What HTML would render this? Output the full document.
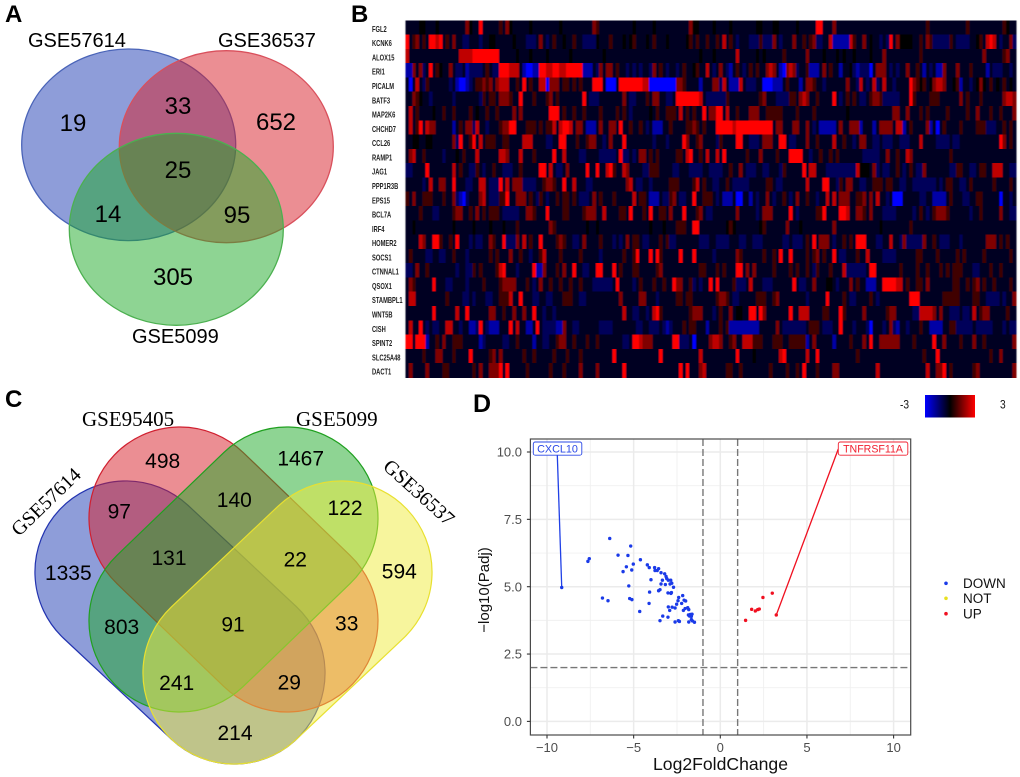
<!DOCTYPE html>
<html lang="en">
<head>
<meta charset="utf-8">
<title>Venn diagrams, heatmap and volcano plot</title>
<style>
html,body{margin:0;padding:0;background:#fff;width:1020px;height:777px;overflow:hidden}
svg{display:block;position:absolute;left:0;top:0}
.sans{font-family:"Liberation Sans",sans-serif}
.serif{font-family:"Liberation Serif",serif}
</style>
</head>
<body>
<svg id="figure" xmlns="http://www.w3.org/2000/svg" width="1020" height="777" viewBox="0 0 1020 777">
  <defs>
    <linearGradient id="keyGradient" x1="0" x2="1" y1="0" y2="0">
      <stop offset="0" stop-color="#0000ff"/>
      <stop offset="0.5" stop-color="#000000"/>
      <stop offset="1" stop-color="#ff0000"/>
    </linearGradient>
    <filter id="softBlur" x="-1%" y="-1%" width="102%" height="102%">
      <feGaussianBlur stdDeviation="0.5 0.35"/>
    </filter>
  </defs>

  <g class="sans" font-weight="700" font-size="24" fill="#000">
    <text x="5" y="22">A</text>
    <text x="351" y="22">B</text>
    <text x="5" y="407">C</text>
    <text x="473" y="412" font-size="25">D</text>
  </g>

  <g>
    <ellipse cx="128.7" cy="144.8" rx="107" ry="95.8" fill="rgb(30,60,180)" fill-opacity=".5" stroke="#4a64b8" stroke-width="1.3"/>
    <ellipse cx="226.3" cy="146.7" rx="107" ry="96" fill="rgb(215,30,40)" fill-opacity=".5" stroke="#d9505c" stroke-width="1.3"/>
    <ellipse cx="176.3" cy="229.3" rx="107" ry="96" fill="rgb(30,170,40)" fill-opacity=".5" stroke="#4cb050" stroke-width="1.3"/>
    <g class="sans" font-size="20" fill="#000">
      <text x="28" y="47">GSE57614</text>
      <text x="218" y="47">GSE36537</text>
      <text x="132" y="343">GSE5099</text>
    </g>
    <g class="sans" font-size="24" fill="#000" text-anchor="middle">
      <text x="73" y="131">19</text>
      <text x="178" y="114">33</text>
      <text x="276" y="130">652</text>
      <text x="178" y="178">25</text>
      <text x="108" y="222">14</text>
      <text x="237" y="223">95</text>
      <text x="173" y="285">305</text>
    </g>
  </g>

  <g>
    <path d="M63.8 638.5L171.8 739.5A91 91 0 0 0 296.2 606.5L188.2 505.5A91 91 0 0 0 63.8 638.5Z" fill="rgb(30,60,180)" fill-opacity=".5" stroke="#2233b0" stroke-width="1.2"/>
    <path d="M116.9 583.6L223.9 686.6A91 91 0 0 0 350.1 555.4L243.1 452.4A91 91 0 0 0 116.9 583.6Z" fill="rgb(215,30,40)" fill-opacity=".5" stroke="#d02030" stroke-width="1.2"/>
    <path d="M350.1 583.6L243.1 686.6A91 91 0 0 1 116.9 555.4L223.9 452.4A91 91 0 0 1 350.1 583.6Z" fill="rgb(30,170,40)" fill-opacity=".5" stroke="#20a020" stroke-width="1.2"/>
    <path d="M403.5 638.2L296.5 739.2A91 91 0 0 1 171.5 606.8L278.5 505.8A91 91 0 0 1 403.5 638.2Z" fill="rgb(240,235,60)" fill-opacity=".5" stroke="#e8e030" stroke-width="1.2"/>
    <g class="serif" font-size="21" fill="#000">
      <text x="82" y="426">GSE95405</text>
      <text x="296" y="426">GSE5099</text>
      <text transform="translate(19,537) rotate(-44)" font-size="20">GSE57614</text>
      <text transform="translate(382,468) rotate(42)" font-size="20">GSE36537</text>
    </g>
    <g class="sans" font-size="21" fill="#000" text-anchor="middle">
      <text x="162.7" y="468">498</text>
      <text x="300.7" y="465.5">1467</text>
      <text x="119.3" y="518.5">97</text>
      <text x="234.3" y="507">140</text>
      <text x="345" y="515">122</text>
      <text x="68.3" y="580">1335</text>
      <text x="169" y="565">131</text>
      <text x="295.3" y="566.5">22</text>
      <text x="399.3" y="578.5">594</text>
      <text x="121.7" y="634">803</text>
      <text x="233" y="631.5">91</text>
      <text x="346.7" y="630.5">33</text>
      <text x="176.7" y="690">241</text>
      <text x="289.3" y="689.5">29</text>
      <text x="235" y="740">214</text>
    </g>
  </g>

  <g id="heatmap" shape-rendering="crispEdges" filter="url(#softBlur)"></g>
  <g id="geneLabels" class="sans" font-weight="700" font-size="8" fill="#222"></g>

  <g>
    <rect x="925" y="395" width="50" height="22.5" fill="url(#keyGradient)"/>
    <text class="sans" transform="translate(900,408.5) scale(.85,1)" font-size="12" fill="#111">-3</text>
    <text class="sans" transform="translate(1000,408.5) scale(.85,1)" font-size="12" fill="#111">3</text>
  </g>

  <g id="volcano">
    <rect x="530.4" y="439" width="380.3" height="296" fill="#fff"/>
    <g id="volcanoGrid"></g>
    <g id="volcanoThresholds"></g>
    <g id="volcanoLeaders"></g>
    <g id="volcanoPoints"></g>
    <rect x="533.3" y="442" width="48.5" height="13.2" rx="2" fill="#fff" stroke="#2a48e6" stroke-width=".9"/>
    <text class="sans" x="557.5" y="452.5" font-size="10.8" fill="#2a48e6" text-anchor="middle">CXCL10</text>
    <rect x="838.3" y="442" width="69.5" height="13.2" rx="2" fill="#fff" stroke="#f02030" stroke-width=".9"/>
    <text class="sans" x="873" y="452.5" font-size="10.6" fill="#f02030" text-anchor="middle">TNFRSF11A</text>
    <rect x="530.4" y="439" width="380.3" height="296" fill="none" stroke="#4a4a4a" stroke-width="1.2"/>
    <g id="volcanoAxes" class="sans"></g>
    <text class="sans" x="720.5" y="770" font-size="17.6" fill="#111" text-anchor="middle">Log2FoldChange</text>
    <text class="sans" transform="translate(489,590) rotate(-90)" font-size="15" fill="#111" text-anchor="middle">−log10(Padj)</text>
    <g class="sans" font-size="13.5" fill="#111">
      <circle cx="946" cy="583.3" r="1.8" fill="#1a3ae8"/>
      <text x="963" y="588">DOWN</text>
      <circle cx="946" cy="598.3" r="1.8" fill="#e8e020"/>
      <text x="963" y="603">NOT</text>
      <circle cx="946" cy="613.7" r="1.8" fill="#f01020"/>
      <text x="963" y="618.5">UP</text>
    </g>
  </g>
</svg>

<script>
/* Heatmap data: one string per gene, one digit per sample.
   Digit d stands for a z-score of (d - 4) * 0.75. */
const geneNames = ["FGL2","KCNK6","ALOX15","ERI1","PICALM","BATF3","MAP2K6","CHCHD7","CCL26","RAMP1","JAG1","PPP1R3B","EPS15","BCL7A","IRF4","HOMER2","SOCS1","CTNNAL1","QSOX1","STAMBPL1","WNT5B","CISH","SPINT2","SLC25A48","DACT1"];
const heatmapRows = [
"3333443334 3333333364 3383333353 6433333433 3333334333 3333336533 3333333343 3333433333 3333364433 3343333433 3333344333 4433333433 3338833363 3333333333 3333333333 3333335333 3333333353 3333333335 433",
"8356353887 8353633223 3323344333 3343332223 6323533433 5332222433 3533343453 3343533343 3333453533 5335373532 3332225222 6323336335 3562233711 1117533634 3323283644 4433536522 2225322223 3453787323 362",
"7333333333 3333337777 8888888833 3334333433 3343333334 3333333334 3333333333 3333333333 3333333343 3343333337 3333343433 3335333333 6333343334 3433433334 3336333333 3333533333 3333333333 3336333335 633",
"1163623835 4336322312 2223532288 8777310011 8877887788 8881113263 6635332323 2332635323 3235334533 7323632135 3235353367 6310676233 5111363533 1334212220 3666323233 6335313231 1633363335 3333132223 323",
"3037325333 3332310012 3556563677 7335383533 7706663553 5353338883 0003888888 8770000000 0665333313 3366273111 7322233000 1113533313 6653323333 3363327323 7237332333 3865453467 7633451332 3464353435 343",
"3365433233 3333233333 3325355366 6533833353 3356353333 3338322233 3333363223 3353663322 3888888873 2222225333 3333335633 3222255367 6335333383 2353532235 6652222233 3853333555 3333336353 3353333336 776",
"3735333343 3533533335 3433533533 3363633333 3338883533 5335333353 3335353233 3334353355 5373535338 3668837335 3336663355 5553333533 3353333333 3343333333 3333336633 6333535333 3353333353 3633353353 336",
"3735837663 3333135366 2733233356 6883335553 5355737887 3663111363 3663833533 5323111335 3333556535 3338888878 8888888888 3663336633 6323111113 6336661333 1366663771 3533336130 3533335333 3555222335 353",
"3344334433 3333628335 8373555335 5333377733 3322338833 3533566332 3633383333 3333233323 3338633563 3332533338 8332223666 3388322333 6335333373 3533236633 2232223322 2333733332 2223223333 3333333386 353",
"3673353333 3233343533 3733333377 6333733353 3333833733 3322333322 2223822323 6635353333 3553783353 7337383333 3353336333 3533388883 3233533535 3333333222 2233633533 7633333333 3335333333 3333333333 333",
"2233338333 3333735332 2532335332 2233533333 8837322363 3333833833 7853376333 3225553333 2233322223 3222233533 6322233223 3325333338 3773332222 2222274443 6232233532 3532263333 3332255332 2355337773 322",
"3333323733 6633833322 3377322283 7366622223 3566533833 7333223333 3333336732 2332333335 5533335735 3322335322 2223333355 3223333333 7333388332 5366332233 5553553322 3322222223 2355332235 3333335333 353",
"5363355533 3533621023 3367322255 8336663532 5323353553 5322236353 3353333373 5531113225 6322338335 5532311130 0331323363 2335323633 5332337373 6663355636 3733230003 3333223311 1135333223 3553333303 323",
"3333533322 3333566335 3635355532 2222336653 3383333553 3335666337 3333553833 3538335536 3338333563 2233333336 3333323666 3333383233 3335583333 8873366536 3332222333 3323532356 6653333332 3353333363 322",
"3343333333 3333433333 4333343334 3335333333 3336533333 3333433433 3333333333 3334333433 3555338833 3333334543 3333334533 3333633343 3333333363 3333333333 3343333333 3533333333 3333333333 3333333333 333",
"3333763388 5335383332 3223365338 2226373533 8333356533 2236333353 3323236355 3223335352 2333333322 2332222333 2233222333 3332232223 5383666323 3535388833 3223373326 2222263353 2223332333 3333666353 533",
"3533332233 2233533323 3333353533 3633533233 5733335333 3353333323 3333353358 3338385333 3383338333 3323333336 5333333533 5383383333 5356353383 2233353373 3332222333 3335533335 3333353533 3335333333 353",
"2236335333 3333323322 5353333578 3332333381 1633353633 8332233883 3383533355 3333356333 3333333355 3335353338 8363633333 5333353533 5325333533 3722222238 8333333353 3335335333 5353555333 2233353353 333",
"3653333383 3322333323 3335333356 6663335323 6335335335 3353332222 2238333323 5333533533 8663352323 3838333352 2237333222 3333338322 3363334432 3336353311 1338888773 5335536333 3333553353 5635335333 353",
"3773333333 3353333223 2333223355 5733833322 3322333555 3322333333 3333633333 6633323333 3553553333 3335665322 3333355533 5633333333 2333338333 3532233335 3233333333 3888333333 3555553333 5533222232 336",
"3333333383 3333373383 3333366335 3363363383 3233233333 3333333333 3333373322 3323785333 3333356663 3323533634 4338838633 3333383377 7333355333 8533333633 3333566333 3322777763 6332223223 7356633333 533",
"3733832322 3377332331 1283211133 3837331138 3222211633 2233333322 2233333332 2332223212 3335355333 1333535111 1111113333 3632222222 3555322233 8333233320 3332362133 2333533111 1335522222 3222223332 322",
"8838881335 3633555333 3312333332 2335333313 3223356633 5333533533 3333322388 7666333333 8822230333 3677633563 3777555333 5553355555 1363333313 3335333638 3366666633 3353333383 3633335333 6335333333 336",
"3333353336 6333533338 3333356363 3333353353 3333533353 3353333333 3383333333 3333338333 3333333373 3333333338 3333433333 3378333333 7338333333 3333353333 3333333333 3333353338 3333333333 3333353363 333",
"3633336333 3553333333 5363366683 8333335333 3335333533 3363333633 3333383333 3333333333 3383833367 3333335533 5333333335 3333533538 3335333366 3333333333 3733333333 3333337336 6835333333 5633333333 336"
];

/* Volcano data: log2 fold change and -log10(adjusted p) */
const downFoldChange = [-9.15,-6.38,-5.17,-7.56,-7.64,-5.90,-5.33,-4.61,-5.02,-5.42,-5.61,-5.11,-4.21,-4.10,-3.79,-3.77,-3.56,-3.64,-3.42,-3.21,-3.13,-3.09,-2.86,-3.00,-3.34,-4.00,-3.42,-3.17,-2.90,-2.80,-2.70,-5.28,-3.48,-3.56,-4.08,-3.02,-2.85,-2.82,-6.80,-6.48,-5.23,-5.10,-4.11,-2.17,-2.40,-2.44,-2.09,-2.00,-2.52,-2.23,-3.00,-2.78,-2.61,-2.92,-2.03,-2.13,-1.88,-1.82,-4.65,-3.32,-3.02,-1.84,-1.73,-1.63,-1.77,-1.67,-3.48,-2.61,-2.42,-2.36,-1.82,-1.67,-1.61,-1.49];
const downLogP = [4.97,6.79,6.51,6.04,5.94,6.17,6.16,6.00,5.84,5.74,5.56,5.62,5.81,5.71,5.71,5.60,5.67,5.60,5.52,5.48,5.38,5.30,5.24,5.24,5.24,5.26,5.10,5.08,5.10,5.13,4.98,5.03,4.89,4.85,4.80,4.77,4.75,4.78,4.58,4.48,4.56,4.52,4.38,4.67,4.60,4.48,4.50,4.47,4.35,4.38,4.25,4.24,4.21,4.12,4.19,4.12,4.22,4.15,4.08,3.91,3.87,3.95,3.97,3.98,3.91,3.90,3.74,3.69,3.74,3.71,3.69,3.78,3.73,3.68];
const upFoldChange = [1.46,1.81,2.02,2.16,2.25,2.46,3.00,3.23];
const upLogP = [3.75,4.16,4.10,4.15,4.17,4.60,4.76,3.95];
const xTickValues = [-10,-5,0,5,10];
const xMinorValues = [-7.5,-2.5,2.5,7.5];
const yTickValues = [0,2.5,5,7.5,10];
const yMinorValues = [1.25,3.75,6.25,8.75];
const foldChangeCutoffs = [-1,1];
const logPCutoffs = [2];

const SVG_NS = "http://www.w3.org/2000/svg";
function make(tag, attrs, parent) {
  const el = document.createElementNS(SVG_NS, tag);
  for (const k in attrs) el.setAttribute(k, attrs[k]);
  parent.appendChild(el);
  return el;
}

/* Heatmap scales */
const hmLeft = 405.7, hmRight = 1016, hmTop = 20.3, hmBottom = 377.4;
const parsedRows = heatmapRows.map(function (r) {
  return r.replace(/ /g, "").split("").map(function (c) { return (Number(c) - 4) * 0.75; });
});
function zColor(v) {
  const t = Math.min(1, Math.abs(v) / 3);
  if (v < 0) return "rgb(0,0," + Math.round(255 * Math.pow(t, 1.5)) + ")";
  return "rgb(" + Math.round(255 * t) + ",0,0)";
}
const heatmapGroup = document.getElementById("heatmap");
const labelGroup = document.getElementById("geneLabels");
const rowH = (hmBottom - hmTop) / parsedRows.length;
parsedRows.forEach(function (row, r) {
  const colW = (hmRight - hmLeft) / row.length;
  row.forEach(function (v, c) {
    const cell = make("rect", {
      x: hmLeft + c * colW,
      y: hmTop + r * rowH,
      width: colW + 0.4,
      height: rowH + 0.4,
      fill: zColor(v)
    }, heatmapGroup);
    
    
  });
  const label = make("text", {
    transform: "translate(372," + (hmTop + (r + 0.5) * rowH + 4.4) + ") scale(.72,1)"
  }, labelGroup);
  label.textContent = geneNames[r];
  
  
});

/* Volcano scales */
function xScale(v) { return 720.3 + 17.33 * v; }
function yScale(v) { return 721.4 - 26.94 * v; }
const plotLeft = 530.4, plotRight = 910.7, plotTop = 439, plotBottom = 735;

const gridGroup = document.getElementById("volcanoGrid");
xMinorValues.forEach(function (v) {
  const line = make("line", { x1: xScale(v), x2: xScale(v), y1: plotTop, y2: plotBottom, stroke: "#f0f0f0", "stroke-width": 0.9 }, gridGroup);
  
  
});
yMinorValues.forEach(function (v) {
  const line = make("line", { x1: plotLeft, x2: plotRight, y1: yScale(v), y2: yScale(v), stroke: "#f0f0f0", "stroke-width": 0.9 }, gridGroup);
  
  
});
xTickValues.forEach(function (v) {
  const line = make("line", { x1: xScale(v), x2: xScale(v), y1: plotTop, y2: plotBottom, stroke: "#ebebeb", "stroke-width": 1.5 }, gridGroup);
  
  
});
yTickValues.forEach(function (v) {
  const line = make("line", { x1: plotLeft, x2: plotRight, y1: yScale(v), y2: yScale(v), stroke: "#ebebeb", "stroke-width": 1.5 }, gridGroup);
  
  
});

const thresholdGroup = document.getElementById("volcanoThresholds");
foldChangeCutoffs.forEach(function (v) {
  const line = make("line", { x1: xScale(v), x2: xScale(v), y1: plotTop, y2: plotBottom, stroke: "#777", "stroke-width": 1.4, "stroke-dasharray": "7 3" }, thresholdGroup);
  
  
});
logPCutoffs.forEach(function (v) {
  const line = make("line", { x1: plotLeft, x2: plotRight, y1: yScale(v), y2: yScale(v), stroke: "#777", "stroke-width": 1.4, "stroke-dasharray": "7 3" }, thresholdGroup);
  
  
});

/* Leader lines join the labelled genes (first DOWN point, last UP point) to their fixed label boxes */
const leaderGroup = document.getElementById("volcanoLeaders");
const cxclLeader = make("line", { x1: xScale(downFoldChange[0]), y1: yScale(downLogP[0]), x2: 557.3, y2: 455, stroke: "#2040e6", "stroke-width": 1.3 }, leaderGroup);


const tnfLeader = make("line", { x1: xScale(upFoldChange[upFoldChange.length - 1]), y1: yScale(upLogP[upLogP.length - 1]), x2: 838.3, y2: 449, stroke: "#f01020", "stroke-width": 1.3 }, leaderGroup);



const pointGroup = document.getElementById("volcanoPoints");
downFoldChange.forEach(function (fc, i) {
  const pt = make("circle", { cx: xScale(fc), cy: yScale(downLogP[i]), r: 1.7, fill: "#1a3ae8" }, pointGroup);
  
  
});
upFoldChange.forEach(function (fc, i) {
  const pt = make("circle", { cx: xScale(fc), cy: yScale(upLogP[i]), r: 1.7, fill: "#f01020" }, pointGroup);
  
  
});

const axisGroup = document.getElementById("volcanoAxes");
xTickValues.forEach(function (v) {
  const tick = make("line", { x1: xScale(v), x2: xScale(v), y1: plotBottom, y2: plotBottom + 3.5, stroke: "#333", "stroke-width": 1.1 }, axisGroup);
  
  
  const label = make("text", { x: xScale(v), y: 751.8, "font-size": 13, fill: "#4d4d4d", "text-anchor": "middle" }, axisGroup);
  label.textContent = v < 0 ? "\u2212" + Math.abs(v) : String(v);
  
  
});
yTickValues.forEach(function (v) {
  const tick = make("line", { x1: plotLeft - 3.5, x2: plotLeft, y1: yScale(v), y2: yScale(v), stroke: "#333", "stroke-width": 1.1 }, axisGroup);
  
  
  const label = make("text", { x: 522, y: yScale(v) + 4.6, "font-size": 13, fill: "#4d4d4d", "text-anchor": "end" }, axisGroup);
  label.textContent = v.toFixed(1);
  
  
});
</script>
</body>
</html>
